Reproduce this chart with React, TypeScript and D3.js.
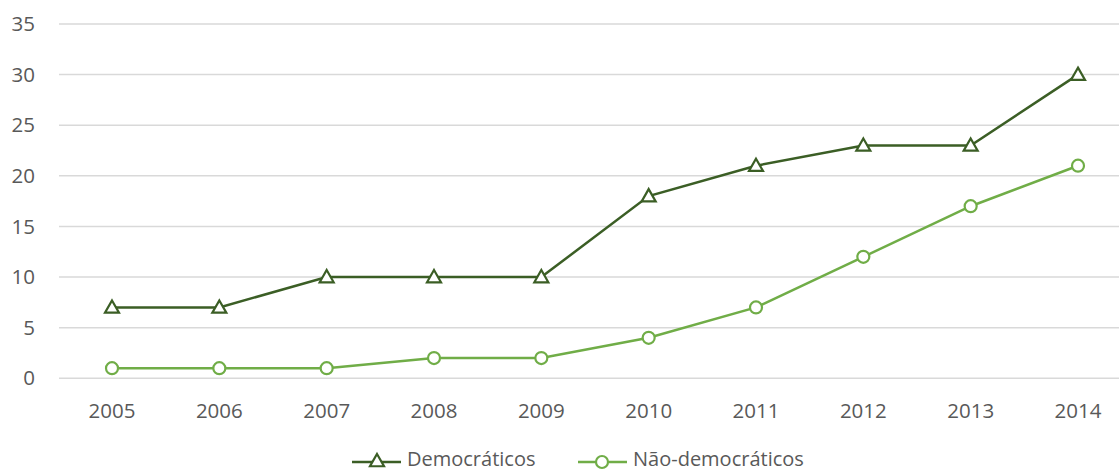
import React from "react";
import * as d3 from "d3";

const years = ["2005", "2006", "2007", "2008", "2009", "2010", "2011", "2012", "2013", "2014"];
const democraticos = [7, 7, 10, 10, 10, 18, 21, 23, 23, 30];
const naoDemocraticos = [1, 1, 1, 2, 2, 4, 7, 12, 17, 21];
const yTicks = [0, 5, 10, 15, 20, 25, 30, 35];
const seriesNames = ["Democráticos", "Não-democráticos"];

const W = 1119;
const H = 472;
const DARK = "#3b5e25";
const LIGHT = "#70ad47";
const FONT = "'Open Sans', sans-serif";
const FS = 20.5;

function Triangle({ x, y }: { x: number; y: number }) {
  const s = 7;
  return (
    <path
      d={`M${x},${y - s} L${x + s},${y + s * 0.75} L${x - s},${y + s * 0.75} Z`}
      fill="#fff"
      stroke={DARK}
      strokeWidth={2.2}
    />
  );
}

export default function App() {
  const x = d3.scalePoint<string>().domain(years).range([112, 1078]);
  const y = d3.scaleLinear().domain([0, 35]).range([378.3, 24]);
  const line = d3
    .line<number>()
    .x((_, i) => x(years[i])!)
    .y((d) => y(d));

  return (
    <svg width={W} height={H} style={{ position: "absolute", left: 0, top: 0 }}>
      <rect width={W} height={H} fill="#fff" />
      {yTicks.map((t) => (
        <g key={t}>
          <line x1={59} x2={W} y1={y(t)} y2={y(t)} stroke="#d9d9d9" strokeWidth={1.5} />
          <text x={35} y={y(t)} dy="0.35em" textAnchor="end" fontFamily={FONT} fontSize={FS} fill="#595959">
            {t}
          </text>
        </g>
      ))}
      {years.map((yr) => (
        <text key={yr} x={x(yr)} y={411} dy="0.35em" textAnchor="middle" fontFamily={FONT} fontSize={FS} fill="#595959">
          {yr}
        </text>
      ))}
      <path d={line(naoDemocraticos)!} fill="none" stroke={LIGHT} strokeWidth={2.5} />
      {naoDemocraticos.map((v, i) => (
        <circle key={i} cx={x(years[i])} cy={y(v)} r={6} fill="#fff" stroke={LIGHT} strokeWidth={2.2} />
      ))}
      <path d={line(democraticos)!} fill="none" stroke={DARK} strokeWidth={2.5} />
      {democraticos.map((v, i) => (
        <Triangle key={i} x={x(years[i])!} y={y(v)} />
      ))}
      <g>
        <line x1={352} x2={401} y1={462} y2={462} stroke={DARK} strokeWidth={2.5} />
        <Triangle x={377} y={461} />
        <text x={407} y={465.5} fontFamily={FONT} fontSize={20} fill="#595959">
          {seriesNames[0]}
        </text>
        <line x1={578} x2={627} y1={462} y2={462} stroke={LIGHT} strokeWidth={2.5} />
        <circle cx={602} cy={462} r={6} fill="#fff" stroke={LIGHT} strokeWidth={2.2} />
        <text x={633} y={465.5} fontFamily={FONT} fontSize={20} fill="#595959">
          {seriesNames[1]}
        </text>
      </g>
    </svg>
  );
}
